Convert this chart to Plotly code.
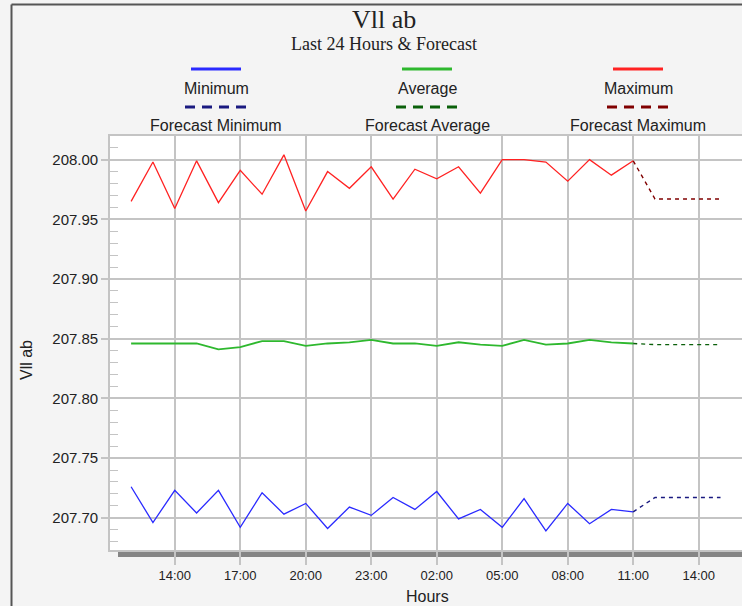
import plotly.graph_objects as go

# hourly readings, last 24 hours
hours = [
    "2024-01-01 12:00", "2024-01-01 13:00", "2024-01-01 14:00", "2024-01-01 15:00",
    "2024-01-01 16:00", "2024-01-01 17:00", "2024-01-01 18:00", "2024-01-01 19:00",
    "2024-01-01 20:00", "2024-01-01 21:00", "2024-01-01 22:00", "2024-01-01 23:00",
    "2024-01-02 00:00", "2024-01-02 01:00", "2024-01-02 02:00", "2024-01-02 03:00",
    "2024-01-02 04:00", "2024-01-02 05:00", "2024-01-02 06:00", "2024-01-02 07:00",
    "2024-01-02 08:00", "2024-01-02 09:00", "2024-01-02 10:00", "2024-01-02 11:00",
]
v_min = [207.726, 207.696, 207.723, 207.704, 207.723, 207.692, 207.721, 207.703,
         207.712, 207.691, 207.709, 207.702, 207.717, 207.707, 207.722, 207.699,
         207.707, 207.692, 207.716, 207.689, 207.712, 207.695, 207.707, 207.705]
v_avg = [207.846, 207.846, 207.846, 207.846, 207.841, 207.843, 207.848, 207.848,
         207.844, 207.846, 207.847, 207.849, 207.846, 207.846, 207.844, 207.847,
         207.845, 207.844, 207.849, 207.845, 207.846, 207.849, 207.847, 207.846]
v_max = [207.965, 207.998, 207.959, 207.999, 207.964, 207.991, 207.971, 208.004,
         207.957, 207.990, 207.976, 207.994, 207.967, 207.992, 207.984, 207.994,
         207.972, 208.000, 208.000, 207.998, 207.982, 208.000, 207.987, 207.999]

# forecast
f_hours = ["2024-01-02 11:00", "2024-01-02 12:00", "2024-01-02 13:00",
           "2024-01-02 14:00", "2024-01-02 15:00"]
f_min = [207.705, 207.717, 207.717, 207.717, 207.717]
f_avg = [207.846, 207.845, 207.845, 207.845, 207.845]
f_max = [207.999, 207.967, 207.967, 207.967, 207.967]

names = ["Minimum", "Average", "Maximum"]
f_names = ["Forecast Minimum", "Forecast Average", "Forecast Maximum"]
colors = ["#2a2aff", "#2eb82e", "#ff2222"]
f_colors = ["#1a1a80", "#0a600a", "#800000"]

SANS = "Liberation Sans, Arial, sans-serif"
SERIF = "Liberation Serif, Times New Roman, serif"
GRID = "#c4c4c4"
TXT = "#222222"

fig = go.Figure()
for vals, col, w in zip([v_min, v_avg, v_max], colors, [1.3, 1.8, 1.3]):
    fig.add_trace(go.Scatter(x=hours, y=vals, mode="lines",
                             line=dict(color=col, width=w), showlegend=False))
for vals, col in zip([f_min, f_avg, f_max], f_colors):
    fig.add_trace(go.Scatter(x=f_hours, y=vals, mode="lines",
                             line=dict(color=col, width=1.4, dash="4px,4px"),
                             showlegend=False))

# pixel -> paper helpers (plot area: x 110..742, y 136..550)
L, T, B, W = 110, 136, 550, 632
H = B - T
px = lambda x: (x - L) / W
py = lambda y: (B - y) / H


def label(text, x, y, size, family=SANS, angle=0):
    return dict(text=text, xref="paper", yref="paper", x=px(x), y=py(y),
                xanchor="center", yanchor="middle", textangle=angle,
                showarrow=False, font=dict(family=family, size=size, color=TXT))


shapes = []
annotations = []

# outer frame
shapes.append(dict(type="line", xref="paper", yref="paper", x0=px(11.5), x1=px(11.5),
                   y0=py(4.5), y1=py(606), line=dict(color="#555555", width=2)))
shapes.append(dict(type="line", xref="paper", yref="paper", x0=px(11.5), x1=px(742),
                   y0=py(4.5), y1=py(4.5), line=dict(color="#555555", width=2)))
# shadow bar under plot
shapes.append(dict(type="rect", xref="paper", yref="paper", x0=px(118), x1=px(742),
                   y0=py(557), y1=py(551), fillcolor="#858585", line=dict(width=0),
                   layer="below"))

# custom legend: sample line above label
legend_cx = [216, 427, 638]
for i in range(3):
    cx = legend_cx[i]
    shapes.append(dict(type="line", xref="paper", yref="paper",
                       x0=px(cx - 25), x1=px(cx + 25), y0=py(69), y1=py(69),
                       line=dict(color=colors[i], width=3)))
    shapes.append(dict(type="line", xref="paper", yref="paper",
                       x0=px(cx - 31), x1=px(cx + 31), y0=py(107), y1=py(107),
                       line=dict(color=f_colors[i], width=3, dash="10px,7px")))
    annotations.append(label(names[i], cx, 89, 16))
    annotations.append(label(f_names[i], cx, 126, 16))

# titles
annotations.append(label("Vll ab", 384, 19, 26, SERIF))
annotations.append(label("Last 24 Hours &amp; Forecast", 384, 44, 18, SERIF))
annotations.append(label("Hours", 427, 596, 16))
annotations.append(label("Vll ab", 26, 360, 16, angle=-90))

fig.update_layout(
    width=742, height=606,
    margin=dict(l=L, r=0, t=T, b=606 - B, pad=0),
    paper_bgcolor="#f4f4f4",
    plot_bgcolor="white",
    shapes=shapes,
    annotations=annotations,
    showlegend=False,
    xaxis=dict(
        type="date",
        range=["2024-01-01 11:02", "2024-01-02 15:59"],
        tick0="2024-01-01 14:00", dtick=3 * 3600000,
        tickformat="%H:%M",
        showgrid=True, gridcolor=GRID, gridwidth=1.6,
        ticks="outside", ticklen=13, tickcolor=GRID, tickwidth=1.6,
        showline=True, linecolor=GRID, linewidth=1.6, mirror=True,
        tickfont=dict(family=SANS, size=13, color=TXT),
        zeroline=False, automargin=False,
    ),
    yaxis=dict(
        range=[207.673, 208.0198],
        tick0=207.70, dtick=0.05, tickformat=".2f",
        showgrid=True, gridcolor=GRID, gridwidth=1.6,
        ticks="outside", ticklen=7, tickcolor=GRID, tickwidth=1.6,
        showline=True, linecolor=GRID, linewidth=1.6, mirror=False,
        tickfont=dict(family=SANS, size=15, color=TXT),
        minor=dict(dtick=0.01, tick0=207.70, ticks="inside", ticklen=8,
                   tickcolor=GRID, tickwidth=1.4, showgrid=False),
        zeroline=False, automargin=False,
    ),
)

fig.write_html("out.html", config={"displayModeBar": False},
               post_script="document.body.style.margin='0';")
